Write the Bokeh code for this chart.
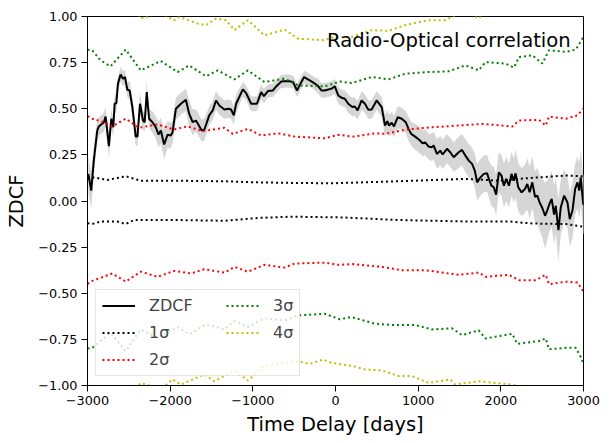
from bokeh.plotting import figure
from bokeh.models import (Legend, LegendItem, FixedTicker, CustomJSTickFormatter, Label,
                          ColumnDataSource)
from bokeh.embed import file_html
from bokeh.resources import INLINE

FONT = "DejaVu Sans"

# ZDCF curve (time delay in days, correlation value, error)
zdcf_lag = [-2990, -2955, -2924, -2882, -2863, -2802, -2781, -2741, -2712, -2688,
            -2672, -2651, -2632, -2599, -2571, -2547, -2518, -2490, -2457, -2417,
            -2396, -2365, -2328, -2308, -2283, -2255, -2214, -2174, -2141, -2113,
            -2073, -2032, -1992, -1971, -1931, -1870, -1810, -1770, -1728, -1688,
            -1660, -1619, -1587, -1527, -1485, -1445, -1405, -1344, -1296, -1263,
            -1230, -1202, -1121, -1081, -1020, -951, -899, -866, -817, -757,
            -717, -656, -574, -514, -465, -434, -380, -312, -259, -210,
            -170, -130, -48, -8, 33, 73, 113, 154, 203, 234,
            267, 316, 356, 397, 437, 498, 559, 599, 628, 648,
            680, 708, 753, 802, 850, 883, 915, 963, 1012, 1053,
            1085, 1126, 1166, 1187, 1227, 1267, 1296, 1348, 1388, 1430,
            1490, 1530, 1571, 1612, 1652, 1685, 1713, 1753, 1794, 1834,
            1855, 1886, 1915, 1943, 1976, 2008, 2037, 2065, 2098, 2129,
            2158, 2178, 2211, 2251, 2292, 2320, 2348, 2381, 2414, 2441,
            2469, 2502, 2535, 2563, 2591, 2615, 2644, 2664, 2697, 2725,
            2766, 2806, 2834, 2866, 2899, 2927, 2948, 2967, 2996, 3020]
zdcf_val = [0.147, 0.056, 0.219, 0.382, 0.404, 0.427, 0.458, 0.297, 0.446, 0.400,
            0.527, 0.530, 0.636, 0.686, 0.663, 0.672, 0.603, 0.599, 0.509, 0.349,
            0.349, 0.527, 0.436, 0.427, 0.590, 0.446, 0.427, 0.400, 0.360, 0.382,
            0.306, 0.359, 0.355, 0.373, 0.500, 0.527, 0.549, 0.473, 0.427, 0.436,
            0.415, 0.382, 0.386, 0.464, 0.491, 0.545, 0.518, 0.496, 0.500, 0.496,
            0.464, 0.527, 0.605, 0.585, 0.527, 0.527, 0.590, 0.568, 0.596, 0.599,
            0.621, 0.648, 0.650, 0.645, 0.599, 0.627, 0.672, 0.654, 0.639, 0.623,
            0.599, 0.599, 0.609, 0.621, 0.572, 0.560, 0.554, 0.527, 0.509, 0.512,
            0.491, 0.545, 0.527, 0.495, 0.496, 0.545, 0.509, 0.409, 0.433, 0.409,
            0.424, 0.404, 0.454, 0.446, 0.427, 0.391, 0.364, 0.349, 0.332, 0.313,
            0.318, 0.295, 0.291, 0.301, 0.255, 0.273, 0.252, 0.283, 0.264, 0.237,
            0.264, 0.277, 0.246, 0.219, 0.201, 0.165, 0.101, 0.128, 0.147, 0.150,
            0.120, 0.083, 0.074, 0.034, 0.155, 0.138, 0.083, 0.120, 0.083, 0.147,
            0.110, 0.150, 0.074, 0.047, 0.065, 0.092, 0.047, 0.101, 0.023, 0.029,
            -0.008, -0.038, -0.080, -0.049, -0.013, 0.011, -0.074, -0.026, -0.158, -0.035,
            0.029, -0.008, -0.098, -0.053, 0.065, 0.101, 0.056, 0.128, -0.016, -0.026]
zdcf_err = [0.10, 0.10, 0.08, 0.06, 0.05, 0.05, 0.05, 0.07, 0.05, 0.05,
            0.05, 0.05, 0.04, 0.04, 0.04, 0.04, 0.04, 0.05, 0.05, 0.05,
            0.05, 0.06, 0.05, 0.05, 0.06, 0.05, 0.06, 0.06, 0.07, 0.07,
            0.08, 0.07, 0.07, 0.06, 0.06, 0.06, 0.06, 0.07, 0.07, 0.06,
            0.06, 0.06, 0.06, 0.05, 0.05, 0.05, 0.05, 0.05, 0.05, 0.05,
            0.05, 0.05, 0.04, 0.04, 0.04, 0.04, 0.04, 0.04, 0.035, 0.035,
            0.035, 0.035, 0.035, 0.035, 0.035, 0.035, 0.035, 0.035, 0.035, 0.04,
            0.04, 0.04, 0.04, 0.04, 0.045, 0.045, 0.045, 0.05, 0.05, 0.05,
            0.05, 0.05, 0.05, 0.05, 0.05, 0.05, 0.055, 0.06, 0.06, 0.06,
            0.06, 0.06, 0.06, 0.06, 0.06, 0.065, 0.065, 0.07, 0.07, 0.07,
            0.07, 0.07, 0.075, 0.075, 0.08, 0.08, 0.08, 0.08, 0.08, 0.08,
            0.085, 0.085, 0.09, 0.09, 0.09, 0.09, 0.10, 0.10, 0.10, 0.10,
            0.10, 0.11, 0.11, 0.11, 0.11, 0.11, 0.12, 0.12, 0.12, 0.12,
            0.12, 0.13, 0.13, 0.13, 0.13, 0.14, 0.14, 0.14, 0.14, 0.15,
            0.15, 0.16, 0.18, 0.16, 0.15, 0.15, 0.16, 0.15, 0.17, 0.15,
            0.14, 0.14, 0.15, 0.15, 0.14, 0.14, 0.15, 0.15, 0.16, 0.16]

# significance levels
s1_up_x = [-3000, -2923, -2761, -2538, -2356, -1952, -1344, -939, -534, -48, 762, 1571, 1976, 2219, 2462, 2785, 3000]
s1_up_y = [0.120, 0.128, 0.114, 0.134, 0.110, 0.110, 0.107, 0.101, 0.098, 0.096, 0.107, 0.120, 0.110, 0.120, 0.128, 0.138, 0.134]
s1_lo_x = [-3000, -2943, -2842, -2639, -2538, -2438, -1952, -1344, -939, -534, 73, 762, 1571, 2098, 2381, 2785, 3000]
s1_lo_y = [-0.120, -0.125, -0.111, -0.111, -0.125, -0.103, -0.103, -0.107, -0.092, -0.085, -0.089, -0.103, -0.111, -0.111, -0.122, -0.125, -0.140]

s2_up_x = [-3000, -2943, -2802, -2700, -2538, -2377, -2153, -1952, -1789, -1607, -1344, -1242, -1060, -899, -696, -494, -130, 33, 215, 477, 599, 842, 1085, 1490, 1773, 2138, 2219, 2462, 2542, 2583, 2785, 2927, 3000]
s2_up_y = [0.460, 0.446, 0.427, 0.404, 0.446, 0.397, 0.415, 0.387, 0.405, 0.378, 0.397, 0.364, 0.391, 0.355, 0.367, 0.349, 0.340, 0.359, 0.349, 0.367, 0.364, 0.386, 0.397, 0.409, 0.418, 0.404, 0.436, 0.440, 0.409, 0.458, 0.446, 0.464, 0.500]
s2_lo_x = [-3000, -2943, -2700, -2538, -2356, -2153, -1952, -1749, -1587, -1344, -1223, -1060, -859, -616, -494, -130, 33, 215, 559, 802, 1085, 1490, 1733, 1814, 2098, 2219, 2421, 2542, 2583, 2785, 2927, 3000]
s2_lo_y = [-0.450, -0.433, -0.393, -0.437, -0.383, -0.411, -0.379, -0.393, -0.370, -0.388, -0.357, -0.383, -0.346, -0.361, -0.339, -0.334, -0.346, -0.342, -0.357, -0.375, -0.375, -0.400, -0.388, -0.411, -0.400, -0.429, -0.429, -0.400, -0.451, -0.437, -0.442, -0.491]

s3_up_x = [-3000, -2943, -2842, -2721, -2538, -2356, -2113, -1910, -1770, -1567, -1425, -1223, -1060, -859, -616, -453, -130, 52, 194, 437, 640, 842, 1126, 1369, 1571, 1733, 1814, 2056, 2158, 2219, 2381, 2502, 2583, 2785, 2907, 3000]
s3_up_y = [0.820, 0.817, 0.762, 0.730, 0.821, 0.708, 0.759, 0.699, 0.735, 0.676, 0.708, 0.659, 0.708, 0.645, 0.663, 0.627, 0.621, 0.648, 0.639, 0.672, 0.659, 0.690, 0.699, 0.703, 0.735, 0.708, 0.753, 0.745, 0.723, 0.780, 0.790, 0.745, 0.817, 0.808, 0.821, 0.890]
s3_lo_x = [-3000, -2943, -2721, -2538, -2356, -2153, -1910, -1770, -1567, -1344, -1223, -1060, -859, -616, -453, -130, 52, 194, 477, 680, 963, 1166, 1409, 1530, 1733, 1814, 2138, 2198, 2462, 2542, 2583, 2785, 2907, 2967, 3000]
s3_lo_y = [-0.800, -0.796, -0.714, -0.814, -0.696, -0.741, -0.683, -0.723, -0.668, -0.696, -0.651, -0.683, -0.636, -0.647, -0.620, -0.611, -0.641, -0.629, -0.665, -0.672, -0.672, -0.696, -0.690, -0.727, -0.701, -0.745, -0.720, -0.774, -0.759, -0.745, -0.804, -0.796, -0.796, -0.846, -0.883]

s4_up_x = [-3000, -2721, -2538, -2356, -2113, -1952, -1891, -1668, -1567, -1445, -1324, -1223, -1060, -859, -616, -453, -130, -48, 194, 437, 640, 842, 1126, 1328, 1571, 1733, 1814, 2200, 2500, 2800, 3000]
s4_up_y = [1.120, 1.030, 1.120, 0.989, 1.020, 0.980, 0.998, 0.962, 0.953, 0.989, 0.980, 0.926, 0.980, 0.898, 0.929, 0.880, 0.871, 0.886, 0.889, 0.926, 0.922, 0.953, 0.980, 0.980, 1.030, 0.990, 1.030, 1.040, 1.090, 1.090, 1.190]
s4_lo_x = [-3000, -2538, -2356, -2113, -1971, -1870, -1587, -1466, -1223, -1060, -859, -616, -453, -312, -149, -48, 215, 356, 559, 762, 923, 1126, 1388, 1449, 1733, 2138, 2400, 2583, 2800, 3000]
s4_lo_y = [-1.070, -1.090, -0.986, -1.020, -0.967, -0.995, -0.940, -0.977, -0.918, -0.973, -0.895, -0.877, -0.868, -0.883, -0.859, -0.877, -0.895, -0.913, -0.918, -0.949, -0.949, -0.986, -0.967, -0.995, -0.977, -0.995, -1.030, -1.070, -1.060, -1.180]

x_ticks = [-3000, -2000, -1000, 0, 1000, 2000, 3000]
y_ticks = [-1.0, -0.75, -0.5, -0.25, 0.0, 0.25, 0.5, 0.75, 1.0]

p = figure(x_range=(-3000, 3000), y_range=(-1, 1),
           frame_width=496, frame_height=369,
           output_backend="svg", toolbar_location=None,
           min_border_left=87, min_border_top=16, min_border_right=22, min_border_bottom=40)
p.background_fill_color = "white"
p.border_fill_color = "white"
p.outline_line_color = "black"
p.outline_line_width = 1
p.xgrid.visible = False
p.ygrid.visible = False

src = ColumnDataSource(dict(x=zdcf_lag, y=zdcf_val,
                            lo=[v - e for v, e in zip(zdcf_val, zdcf_err)],
                            hi=[v + e for v, e in zip(zdcf_val, zdcf_err)]))
p.varea(x="x", y1="lo", y2="hi", source=src, fill_color="#d6d6d6", fill_alpha=1.0)

dash = "2 3"
lw = 2
r_z = p.line("x", "y", source=src, line_color="black", line_width=2)
r1 = p.line(s1_up_x, s1_up_y, line_color="black", line_width=lw, line_dash=dash)
p.line(s1_lo_x, s1_lo_y, line_color="black", line_width=lw, line_dash=dash)
r2 = p.line(s2_up_x, s2_up_y, line_color="#ff0000", line_width=lw, line_dash=dash)
p.line(s2_lo_x, s2_lo_y, line_color="#ff0000", line_width=lw, line_dash=dash)
r3 = p.line(s3_up_x, s3_up_y, line_color="#008000", line_width=lw, line_dash=dash)
p.line(s3_lo_x, s3_lo_y, line_color="#008000", line_width=lw, line_dash=dash)
r4 = p.line(s4_up_x, s4_up_y, line_color="#bfbf00", line_width=lw, line_dash=dash)
p.line(s4_lo_x, s4_lo_y, line_color="#bfbf00", line_width=lw, line_dash=dash)

minus_js = "return (Math.abs(tick) < 1e-9 ? 0 : tick).toFixed(%d).replace('-', '\\u2212');"
for ax, ticks, dec in ((p.xaxis[0], x_ticks, 0), (p.yaxis[0], y_ticks, 2)):
    ax.ticker = FixedTicker(ticks=ticks)
    ax.formatter = CustomJSTickFormatter(code=minus_js % dec)
    ax.major_label_text_font = FONT
    ax.major_label_text_font_size = "12.8px"
    ax.major_label_text_color = "black"
    ax.axis_label_text_font = FONT
    ax.axis_label_text_font_size = "19.4px"
    ax.axis_label_text_font_style = "normal"
    ax.axis_label_text_color = "black"
    ax.major_tick_out = 6
    ax.major_tick_in = 0
    ax.minor_tick_out = 0
    ax.minor_tick_in = 0
    ax.axis_line_color = "black"
    ax.major_tick_line_color = "black"
    ax.major_label_standoff = 4

p.xaxis.axis_label = "Time Delay [days]"
p.yaxis.axis_label = "ZDCF"
p.xaxis.axis_label_standoff = 5
p.yaxis.axis_label_standoff = 7

p.add_layout(Label(x=2845, y=0.869, text="Radio-Optical correlation",
                   text_align="right", text_baseline="alphabetic",
                   text_font=FONT, text_font_size="19.6px", text_color="black"))

pad = "\u00a0" * 5
legend = Legend(items=[LegendItem(label="ZDCF" + pad, renderers=[r_z]),
                       LegendItem(label="1σ", renderers=[r1]),
                       LegendItem(label="2σ", renderers=[r2]),
                       LegendItem(label="3σ", renderers=[r3]),
                       LegendItem(label="4σ", renderers=[r4])],
                location=(8, 9), orientation="vertical", nrows=3)
legend.label_text_font = FONT
legend.label_text_font_size = "16px"
legend.glyph_width = 33
legend.glyph_height = 19
legend.label_standoff = 14
legend.spacing = 8
legend.padding = 6
legend.margin = 0
legend.border_line_color = "#cccccc"
legend.border_line_width = 1
legend.background_fill_color = "white"
legend.background_fill_alpha = 0.8
p.add_layout(legend, "center")

open("out.html", "w").write(file_html(p, INLINE))
